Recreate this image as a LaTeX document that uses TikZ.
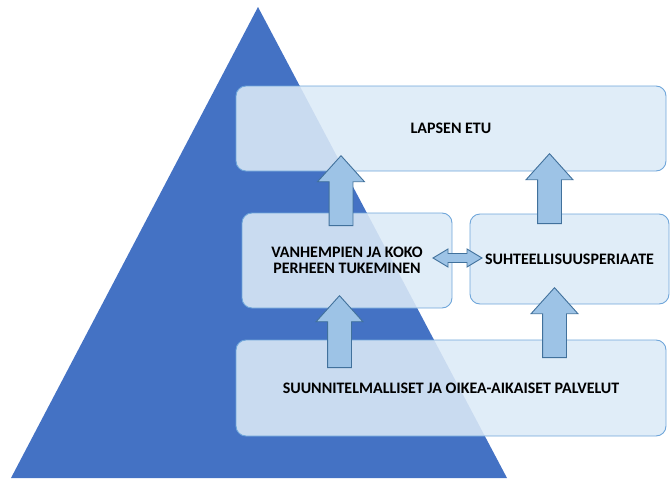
\documentclass[tikz,border=0pt]{standalone}
\usepackage{fontspec}
\setmainfont{Carlito}
\usetikzlibrary{
  shapes.arrows,
  positioning
}
\definecolor{pyramid}{HTML}{4472C4}
\definecolor{boxfill}{HTML}{DCEAF7}
\definecolor{boxline}{HTML}{6FA6DA}
\definecolor{arrowfill}{HTML}{9DC3E6}
\definecolor{arrowline}{HTML}{41719C}

\begin{document}
\begin{tikzpicture}[
      x=1pt,y=-1pt,
      level/.style={
         rectangle,
         rounded corners=10pt,
         line width=0.9pt,
         draw=boxline,
         fill=boxfill,
         fill opacity=0.88,
         text opacity=1,
         inner sep=0pt,
         align=center,
         font=\bfseries\fontsize{16}{16.5}\selectfont
      },
      up arrow/.style={
         single arrow,
         shape border rotate=90,
         anchor=tip,
         line width=0.9pt,
         draw=arrowline,
         fill=arrowfill,
         inner sep=11.5pt,
         minimum height=70pt,
         single arrow head extend=11.5pt,
         single arrow tip angle=84
      },
      both arrow/.style={
         line width=0.9pt,
         draw=arrowline,
         fill=arrowfill,
         line join=miter
      }
    ]
    \useasboundingbox (0,0) rectangle (670,479);
    % pyramid in the back
    \fill[pyramid] (258,7) -- (507,478) -- (11,478) -- cycle;
    % levels
    \node (etu) [level, minimum width=430pt, minimum height=85pt] at (451,128.5) {LAPSEN ETU};
    \node (tuki) [level, minimum width=210pt, minimum height=95pt] at (347,260.5) {VANHEMPIEN JA KOKO\\PERHEEN TUKEMINEN};
    \node (suhde) [level, minimum width=199pt, minimum height=90pt] at (569.5,259) {SUHTEELLISUUSPERIAATE};
    \node (palvelut) [level, minimum width=430pt, minimum height=96pt] at (451,388) {SUUNNITELMALLISET JA OIKEA-AIKAISET PALVELUT};
    % block arrows, placed by their tips
    \node (a1) [up arrow] at (341,155) {};
    \node (a2) [up arrow] at (549.5,153) {};
    \node (a3) [up arrow, minimum height=72pt] at (339.5,295) {};
    \node (a4) [up arrow] at (554.5,287) {};
    % two-way arrow between the middle levels
    \path[both arrow] (433,258) -- (448,249) -- (448,253.5) -- (467,253.5) -- (467,249)
       -- (482,258) -- (467,267) -- (467,262.5) -- (448,262.5) -- (448,267) -- cycle;
\end{tikzpicture}
\end{document}
